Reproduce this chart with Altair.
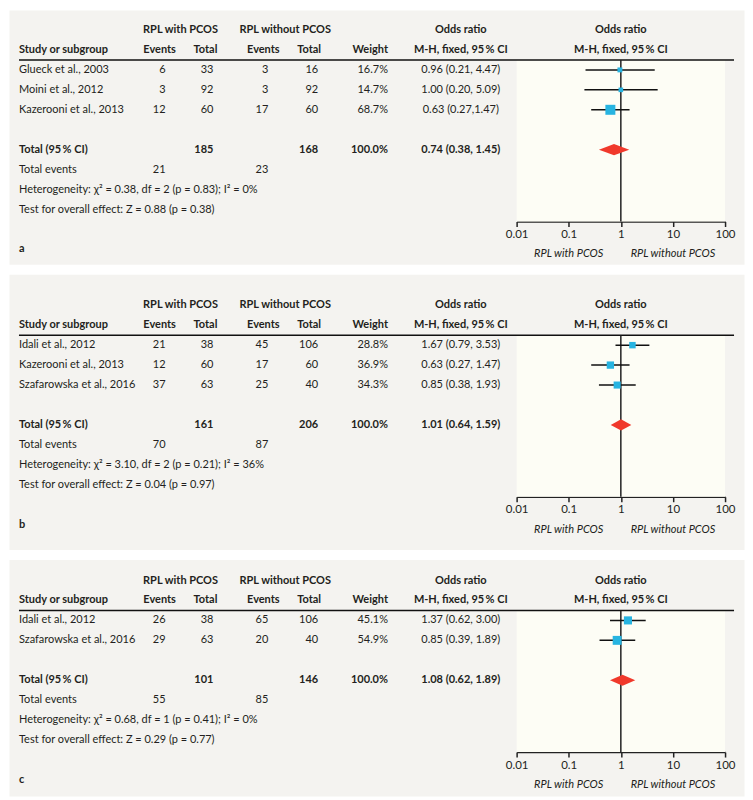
import altair as alt
import pandas as pd

FONT = "Lato, sans-serif"
FS = 11
TXT = "#231f20"
PANEL_BG = "#f4f3f0"
PLOT_BG = "#fdfdf5"
SQ = "#27b4e1"
DIA = "#f0392b"
ROW = 20

TICKS = [0.01, 0.1, 1, 10, 100]

# ---------------- panel a ----------------
a_study = ["Glueck et al., 2003", "Moini et al., 2012", "Kazerooni et al., 2013"]
a_ev1 = ["6", "3", "12"]
a_tot1 = ["33", "92", "60"]
a_ev2 = ["3", "3", "17"]
a_tot2 = ["16", "92", "60"]
a_weight = [16.7, 14.7, 68.7]
a_or = [0.96, 1.00, 0.63]
a_lo = [0.21, 0.20, 0.27]
a_hi = [4.47, 5.09, 1.47]
a_ci = ["0.96 (0.21, 4.47)", "1.00 (0.20, 5.09)", "0.63 (0.27,1.47)"]
a_total = ["185", "168", "0.74 (0.38, 1.45)"]
a_total_or = [0.74, 0.38, 1.45]
a_events = ["21", "23"]
a_het = "Heterogeneity: χ² = 0.38, df = 2 (p = 0.83); I² = 0%"
a_test = "Test for overall effect: Z = 0.88 (p = 0.38)"

# ---------------- panel b ----------------
b_study = ["Idali et al., 2012", "Kazerooni et al., 2013", "Szafarowska et al., 2016"]
b_ev1 = ["21", "12", "37"]
b_tot1 = ["38", "60", "63"]
b_ev2 = ["45", "17", "25"]
b_tot2 = ["106", "60", "40"]
b_weight = [28.8, 36.9, 34.3]
b_or = [1.67, 0.63, 0.85]
b_lo = [0.79, 0.27, 0.38]
b_hi = [3.53, 1.47, 1.93]
b_ci = ["1.67 (0.79, 3.53)", "0.63 (0.27, 1.47)", "0.85 (0.38, 1.93)"]
b_total = ["161", "206", "1.01 (0.64, 1.59)"]
b_total_or = [1.01, 0.64, 1.59]
b_events = ["70", "87"]
b_het = "Heterogeneity: χ² = 3.10, df = 2 (p = 0.21); I² = 36%"
b_test = "Test for overall effect: Z = 0.04 (p = 0.97)"

# ---------------- panel c ----------------
c_study = ["Idali et al., 2012", "Szafarowska et al., 2016"]
c_ev1 = ["26", "29"]
c_tot1 = ["38", "63"]
c_ev2 = ["65", "20"]
c_tot2 = ["106", "40"]
c_weight = [45.1, 54.9]
c_or = [1.37, 0.85]
c_lo = [0.62, 0.39]
c_hi = [3.00, 1.89]
c_ci = ["1.37 (0.62, 3.00)", "0.85 (0.39, 1.89)"]
c_total = ["101", "146", "1.08 (0.62, 1.89)"]
c_total_or = [1.08, 0.62, 1.89]
c_events = ["55", "85"]
c_het = "Heterogeneity: χ² = 0.68, df = 1 (p = 0.41); I² = 0%"
c_test = "Test for overall effect: Z = 0.29 (p = 0.77)"

# column layout: (x pixel, align)
COLS = {
    "study": (10, "left"),
    "g1": (172, "center"),
    "g2": (277, "center"),
    "h_ev1": (151, "center"),
    "h_tot1": (197, "center"),
    "h_ev2": (255, "center"),
    "h_tot2": (301, "center"),
    "ev1": (157, "right"),
    "tot1": (205, "right"),
    "ev2": (260, "right"),
    "tot2": (310, "right"),
    "weight": (380, "right"),
    "orci": (453, "center"),
}


def build_panel(letter, study, ev1, tot1, ev2, tot2, weight, est, lo, hi, ci,
                total, total_or, events, het, test, H, y0):
    k = len(study)
    ys = alt.Scale(domain=[0, 1], range=[y0, y0 + ROW], zero=False, nice=False)
    xs = alt.Scale(type="log", domain=[0.01, 100], range=[509, 718], nice=False)
    r_line = 1.5
    r_total = k + 3
    r_axis = k + 6.6
    axis_px = y0 + ROW * r_axis
    AX = alt.Axis(values=TICKS, format="~g", offset=axis_px - H, grid=False,
                  title=None, domainColor="#222", domainWidth=1.5,
                  tickColor="#222", tickWidth=1.5, tickSize=5,
                  labelFont=FONT, labelFontSize=FS + 0.5, labelColor=TXT,
                  labelPadding=2, labelFlush=False, labelOverlap=False)

    def X(f):
        return alt.X(f, scale=xs, axis=AX)

    def Y(f, **kw):
        return alt.Y(f, scale=ys, axis=None, **kw)

    cells = []
    for c, t in [("g1", "RPL with PCOS"), ("g2", "RPL without PCOS"), ("orci", "Odds ratio")]:
        cells.append((0, c, t, True))
    for c, t in [("study", "Study or subgroup"), ("h_ev1", "Events"), ("h_tot1", "Total"),
                 ("h_ev2", "Events"), ("h_tot2", "Total"), ("weight", "Weight"),
                 ("orci", "M-H, fixed, 95\u2009% CI")]:
        cells.append((1, c, t, True))
    for i in range(k):
        r = 2 + i
        cells += [(r, "study", study[i], False), (r, "ev1", ev1[i], False),
                  (r, "tot1", tot1[i], False), (r, "ev2", ev2[i], False),
                  (r, "tot2", tot2[i], False), (r, "weight", f"{weight[i]:.1f}%", False),
                  (r, "orci", ci[i], False)]
    cells += [(r_total, "study", "Total (95\u2009% CI)", True), (r_total, "tot1", total[0], True),
              (r_total, "tot2", total[1], True), (r_total, "weight", "100.0%", True),
              (r_total, "orci", total[2], True)]
    cells += [(k + 4, "study", "Total events", False), (k + 4, "ev1", events[0], False),
              (k + 4, "ev2", events[1], False)]
    cells += [(k + 5, "study", het, False), (k + 6, "study", test, False)]
    cells += [(k + 8.0, "study", letter, True)]
    cdf = pd.DataFrame(cells, columns=["r", "col", "t", "bold"])

    layers = []
    bg = pd.DataFrame({"x": [0.01], "x2": [100], "r": [r_line], "r2": [r_axis]})
    layers.append(
        alt.Chart(bg).mark_rect(color=PLOT_BG).encode(
            x=X("x:Q"), x2="x2:Q", y=Y("r:Q"), y2="r2:Q")
    )
    hl = pd.DataFrame({"r": [r_line]})
    layers.append(
        alt.Chart(hl).mark_rule(color="#111", strokeWidth=1.6).encode(
            x=alt.value(10), x2=alt.value(727), y=Y("r:Q"))
    )
    vl = pd.DataFrame({"x": [1], "r": [r_line], "r2": [r_axis]})
    layers.append(
        alt.Chart(vl).mark_rule(color="#222", strokeWidth=1.5).encode(
            x=X("x:Q"), y=Y("r:Q"), y2="r2:Q")
    )
    sdf = pd.DataFrame({"est": est, "lo": lo, "hi": hi, "w": weight,
                        "r": [2 + i for i in range(k)]})
    layers.append(
        alt.Chart(sdf).mark_rule(color="#111", strokeWidth=1.5).encode(
            x=X("lo:Q"), x2="hi:Q", y=Y("r:Q"))
    )
    layers.append(
        alt.Chart(sdf).mark_square(color=SQ, opacity=1, filled=True).encode(
            x=X("est:Q"), y=Y("r:Q"),
            size=alt.Size("w:Q", scale=alt.Scale(domain=[0, 100], range=[0, 146]), legend=None))
    )
    e, l, h = total_or[0], total_or[1], total_or[2]
    ddf = pd.DataFrame({"x": [l, e, h],
                        "r": [r_total, r_total - 0.28, r_total],
                        "r2": [r_total, r_total + 0.28, r_total]})
    layers.append(
        alt.Chart(ddf).mark_area(color=DIA, orient="vertical", opacity=1).encode(
            x=X("x:Q"), y=Y("r:Q", stack=None), y2="r2:Q")
    )
    for col, (px, al) in COLS.items():
        for b in (False, True):
            sub = cdf[(cdf.col == col) & (cdf.bold == b)]
            if len(sub) == 0:
                continue
            layers.append(
                alt.Chart(sub).mark_text(align=al, baseline="middle", font=FONT, fontSize=FS,
                                         fontWeight="bold" if b else "normal", color=TXT).encode(
                    x=alt.value(px), y=Y("r:Q"), text="t:N")
            )
    ph = pd.DataFrame({"x": [1, 1], "r": [0, 1], "t": ["Odds ratio", "M-H, fixed, 95\u2009% CI"]})
    layers.append(
        alt.Chart(ph).mark_text(align="center", baseline="middle", font=FONT, fontSize=FS,
                                fontWeight="bold", color=TXT).encode(
            x=X("x:Q"), y=Y("r:Q"), text="t:N")
    )
    il = pd.DataFrame({"x": [0.1, 10], "r": [k + 8.25, k + 8.25],
                       "t": ["RPL with PCOS", "RPL without PCOS"]})
    layers.append(
        alt.Chart(il).mark_text(align="center", baseline="middle", font=FONT, fontSize=FS,
                                fontStyle="italic", color=TXT).encode(
            x=X("x:Q"), y=Y("r:Q"), text="t:N")
    )
    return alt.layer(*layers).properties(
        width=737, height=H, view=alt.ViewBackground(fill=PANEL_BG, stroke="transparent"))


pa = build_panel("a", a_study, a_ev1, a_tot1, a_ev2, a_tot2, a_weight, a_or, a_lo, a_hi, a_ci,
                 a_total, a_total_or, a_events, a_het, a_test, H=255, y0=20)
pb = build_panel("b", b_study, b_ev1, b_tot1, b_ev2, b_tot2, b_weight, b_or, b_lo, b_hi, b_ci,
                 b_total, b_total_or, b_events, b_het, b_test, H=276, y0=31)
pc = build_panel("c", c_study, c_ev1, c_tot1, c_ev2, c_tot2, c_weight, c_or, c_lo, c_hi, c_ci,
                 c_total, c_total_or, c_events, c_het, c_test, H=237, y0=21)

chart = alt.vconcat(pa, pb, pc, spacing=8).properties(padding=0, background="white")
chart.save("out.html", embed_options={"renderer": "svg", "actions": False})
